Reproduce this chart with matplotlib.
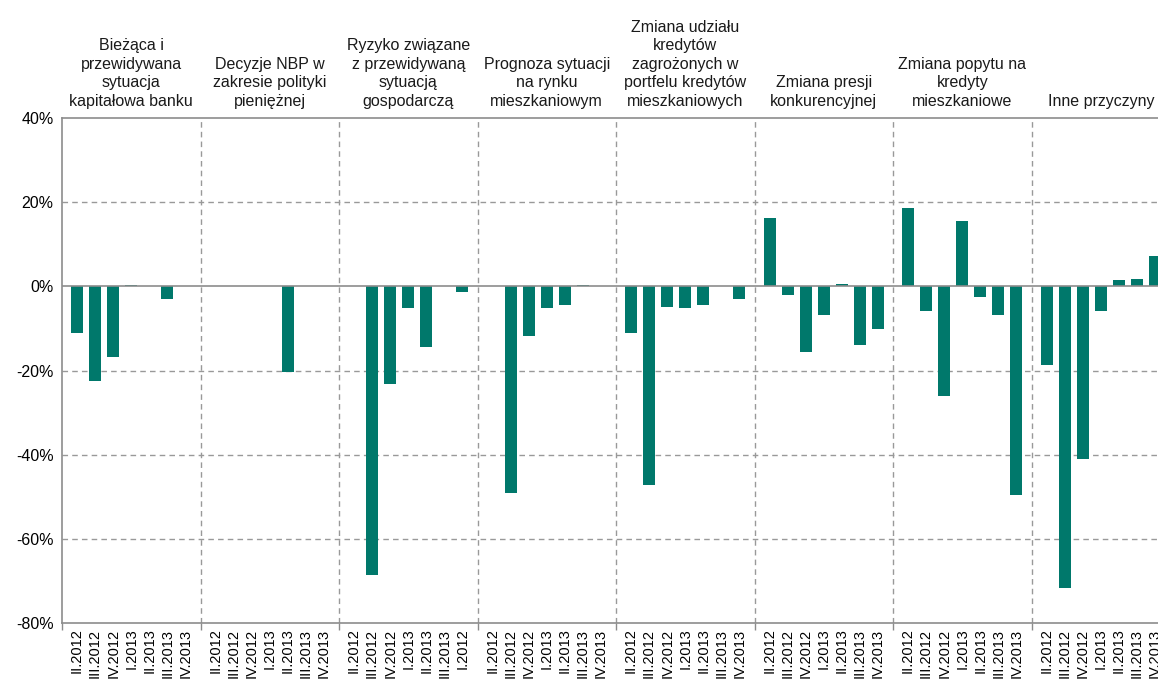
import matplotlib

matplotlib.use("Agg")

import numpy as np
from matplotlib import pyplot as plt
from matplotlib import transforms

plt.rcParams["font.family"] = ["Liberation Sans", "DejaVu Sans"]

groups = [
    "Bieżąca i\nprzewidywana\nsytuacja\nkapitałowa banku",
    "Decyzje NBP w\nzakresie polityki\npieniężnej",
    "Ryzyko związane\nz przewidywaną\nsytuacją\ngospodarczą",
    "Prognoza sytuacji\nna rynku\nmieszkaniowym",
    "Zmiana udziału\nkredytów\nzagrożonych w\nportfelu kredytów\nmieszkaniowych",
    "Zmiana presji\nkonkurencyjnej",
    "Zmiana popytu na\nkredyty\nmieszkaniowe",
    "Inne przyczyny",
]

quarters = ["II.2012", "III.2012", "IV.2012", "I.2013", "II.2013", "III.2013", "IV.2013"]
# the source chart labels the last bar of the third group "I.2012"
quarters_g3 = ["II.2012", "III.2012", "IV.2012", "I.2013", "II.2013", "III.2013", "I.2012"]

kapital = [-11.2, -22.6, -16.9, 0.4, 0, -3.0, 0]
nbp = [0, 0, 0, 0, -20.4, 0, 0]
ryzyko = [0, -68.7, -23.2, -5.2, -14.5, 0, -1.4]
prognoza = [0, -49.1, -11.8, -5.2, -4.4, 0.4, 0]
zagrozone = [-11.2, -47.2, -4.9, -5.2, -4.4, 0, -3.0]
konkurencja = [16.2, -2.0, -15.6, -6.9, 0.5, -13.9, -10.1]
popyt = [18.6, -5.8, -26.0, 15.6, -2.5, -6.9, -49.7]
inne = [-18.8, -71.7, -41.0, -5.8, 1.5, 1.7, 7.2]

series = [kapital, nbp, ryzyko, prognoza, zagrozone, konkurencja, popyt, inne]
tick_sets = [quarters, quarters, quarters_g3, quarters, quarters, quarters, quarters, quarters]

color = "#00786B"
axis_gray = "#8c8c8c"
n = len(quarters)
pad = 1 / 3  # empty space at each side of a group, in bar slots
group_w = n + 2 * pad

fig = plt.figure(figsize=(11.58, 6.86), dpi=100)
ax = fig.add_axes([62 / 1158, 1 - 623 / 686, 1108 / 1158, 505 / 686])

xs, labels = [], []
for g, (vals, ticks) in enumerate(zip(series, tick_sets)):
    pos = g * group_w + pad + np.arange(n) + 0.5
    ax.bar(pos, np.array(vals) / 100, width=0.66, color=color, linewidth=0, zorder=3)
    xs.extend(pos)
    labels.extend(ticks)

ax.set_xlim(0, len(series) * group_w)
ax.set_ylim(-0.8, 0.4)
ax.set_yticks(np.arange(-0.8, 0.41, 0.2))
ax.set_yticklabels([f"{int(round(v * 100))}%" for v in np.arange(-0.8, 0.41, 0.2)], fontsize=11.5)

ax.set_xticks(xs)
ax.set_xticklabels(labels, rotation=90, fontsize=10.5)
ax.tick_params(axis="x", which="major", length=0, pad=4)
bounds = np.arange(1, len(series)) * group_w
ax.set_xticks(np.concatenate([[0], bounds]), minor=True)
ax.tick_params(axis="x", which="minor", length=5, color=axis_gray, width=1)
ax.tick_params(axis="y", length=0, pad=6)

for y in [0.2, -0.2, -0.4, -0.6]:
    ax.axhline(y, color="#999999", linestyle=(0, (4, 3)), linewidth=1, zorder=1)
for b in bounds:
    ax.axvline(b, color="#999999", linestyle=(0, (4, 3)), linewidth=1, zorder=1)
ax.axhline(0, color=axis_gray, linewidth=1.2, zorder=4)

for side in ["left", "bottom", "top", "right"]:
    ax.spines[side].set_color(axis_gray)
    ax.spines[side].set_linewidth(1.2)

trans = transforms.blended_transform_factory(ax.transData, ax.transAxes)
for g, name in enumerate(groups):
    ax.text((g + 0.5) * group_w, 1.018, name, transform=trans, ha="center", va="bottom",
            fontsize=11.5, linespacing=1.3, color="#1a1a1a")

fig.savefig("out.png")
